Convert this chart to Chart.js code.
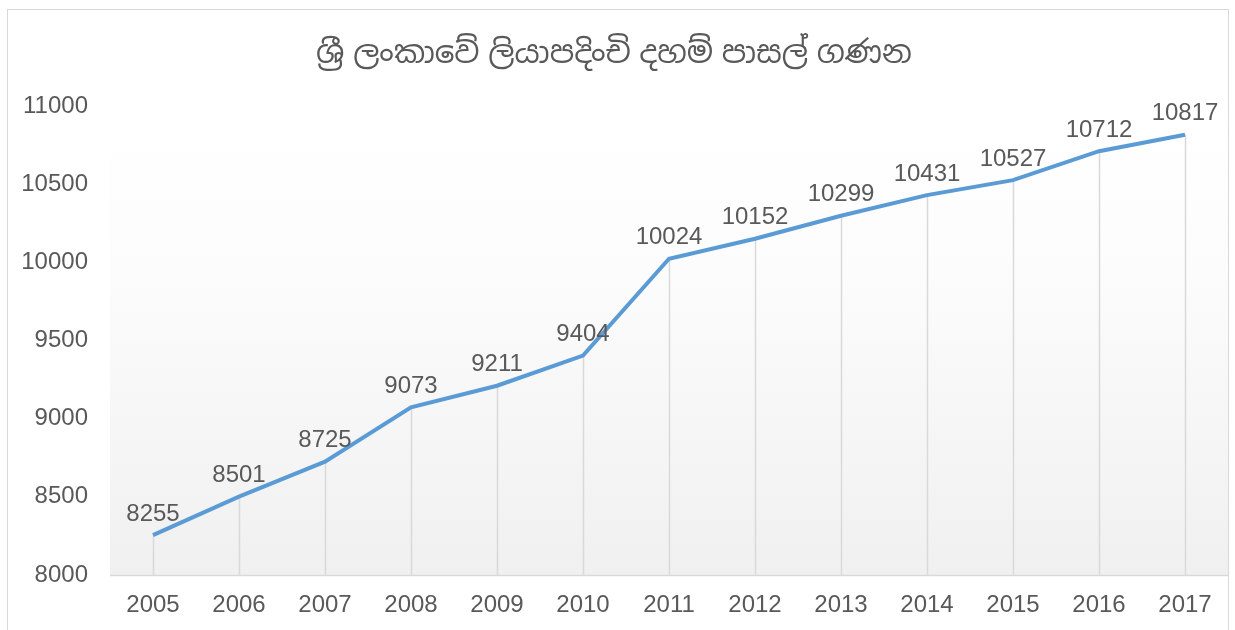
<!DOCTYPE html>
<html>
<head>
<meta charset="utf-8">
<script src="https://cdn.jsdelivr.net/npm/chart.js@4/dist/chart.umd.min.js"></script>
<style>
  html, body { margin: 0; padding: 0; background: #fff; }
  #wrap { position: relative; width: 1235px; height: 630px; overflow: hidden; }
  #frame { position: absolute; left: 7px; top: 9px; width: 1220px; height: 640px; border: 1px solid #d9d9d9; }
  canvas { position: absolute; left: 0; top: 0; }
</style>
</head>
<body>
<div id="wrap">
  <div id="frame"></div>
  <canvas id="myChart" width="1235" height="630"></canvas>
</div>
<script>
var years = ["2005", "2006", "2007", "2008", "2009", "2010", "2011", "2012", "2013", "2014", "2015", "2016", "2017"];
var schools = [8255, 8501, 8725, 9073, 9211, 9404, 10024, 10152, 10299, 10431, 10527, 10712, 10817];
var yTicks = [8000, 8500, 9000, 9500, 10000, 10500, 11000];
var titleText = "ශ්‍රී ලංකාවේ ලියාපදිංචි දහම් පාසල් ගණන";

var fontFamily = "'Liberation Sans', Arial, 'Noto Sans Sinhala', sans-serif";

// plot area gradient + drop lines
var backPlugin = {
    id: 'back',
    beforeDatasetsDraw: function (chart) {
        var ctx = chart.ctx;
        var a = chart.chartArea;
        ctx.save();
        var g = ctx.createLinearGradient(0, a.bottom, 0, a.top);
        g.addColorStop(0, '#f0f0f0');
        g.addColorStop(0.65, '#fcfcfc');
        g.addColorStop(1, '#ffffff');
        ctx.fillStyle = g;
        ctx.fillRect(a.left, a.top, a.right - a.left, a.bottom - a.top);

        var meta = chart.getDatasetMeta(0);
        ctx.strokeStyle = '#d9d9d9';
        ctx.lineWidth = 1.5;
        meta.data.forEach(function (pt) {
            ctx.beginPath();
            ctx.moveTo(Math.round(pt.x) + 0.5, pt.y);
            ctx.lineTo(Math.round(pt.x) + 0.5, a.bottom);
            ctx.stroke();
        });
        ctx.beginPath();
        ctx.moveTo(a.left, a.bottom + 0.5);
        ctx.lineTo(a.right, a.bottom + 0.5);
        ctx.stroke();
        ctx.restore();
    }
};

var dataLabelPlugin = {
    id: 'dataLabels',
    afterDatasetsDraw: function (chart) {
        var ctx = chart.ctx;
        var meta = chart.getDatasetMeta(0);
        ctx.save();
        ctx.fillStyle = '#595959';
        ctx.font = '24px ' + fontFamily;
        ctx.textAlign = 'center';
        ctx.textBaseline = 'middle';
        meta.data.forEach(function (el, i) {
            ctx.fillText(String(schools[i]), el.x, el.y - 21);
        });
        ctx.restore();
    }
};

var chart = new Chart(document.getElementById("myChart").getContext('2d'), {
    type: 'line',
    data: {
        labels: years,
        datasets: [{
            data: schools,
            borderColor: '#5b9bd5',
            borderWidth: 4,
            pointRadius: 0,
            tension: 0,
            fill: false
        }]
    },
    options: {
        responsive: false,
        animation: false,
        layout: { padding: { left: 0, right: 7, top: 0, bottom: 0 } },
        plugins: {
            legend: { display: false },
            tooltip: { enabled: false },
            title: {
                display: true,
                text: titleText,
                color: '#595959',
                font: { size: 31, family: fontFamily, weight: 'normal' },
                padding: { top: 36, bottom: 33 }
            }
        },
        scales: {
            x: {
                offset: true,
                grid: { display: false, drawTicks: false },
                border: { display: false },
                ticks: {
                    color: '#595959',
                    font: { size: 24, family: fontFamily },
                    padding: 16,
                    maxRotation: 0
                },
                afterFit: function (scale) { scale.height = 55; }
            },
            y: {
                min: 8000,
                max: 11000,
                afterBuildTicks: function (scale) {
                    scale.ticks = yTicks.map(function (v) { return { value: v }; });
                },
                grid: { display: false, drawTicks: false },
                border: { display: false },
                ticks: {
                    color: '#595959',
                    font: { size: 24, family: fontFamily },
                    padding: 22,
                    callback: function (v) { return String(v); }
                },
                afterFit: function (scale) { scale.width = 110; }
            }
        }
    },
    plugins: [backPlugin, dataLabelPlugin]
});
</script>
</body>
</html>
